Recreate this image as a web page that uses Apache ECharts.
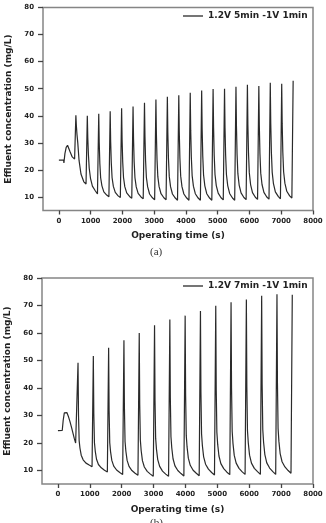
<!DOCTYPE html>
<html>
<head>
<meta charset="utf-8">
<script src="https://cdn.jsdelivr.net/npm/echarts@6/dist/echarts.min.js"></script>
<style>
    html, body { margin: 0; padding: 0; background: #ffffff; }
    #main { width: 326px; height: 523px; }
</style>
</head>
<body>
<div id="main"></div>
<script>
    // (a) 1.2V 5min / -1V 1min : time (s) and effluent concentration (mg/L)
    var nameA = '1.2V 5min -1V 1min';
    var timeA = [0, 150, 158, 168, 190, 230, 273, 310, 346, 420, 472, 495,
        535, 550, 570, 595, 635, 695, 785, 855,
        895, 910, 930, 955, 995, 1055, 1145, 1215,
        1255, 1270, 1290, 1315, 1355, 1415, 1505, 1575,
        1615, 1630, 1650, 1675, 1715, 1775, 1865, 1935,
        1975, 1990, 2010, 2035, 2075, 2135, 2225, 2295,
        2335, 2350, 2370, 2395, 2435, 2495, 2585, 2655,
        2695, 2710, 2730, 2755, 2795, 2855, 2945, 3015,
        3055, 3070, 3090, 3115, 3155, 3215, 3305, 3375,
        3415, 3430, 3450, 3475, 3515, 3575, 3665, 3735,
        3775, 3790, 3810, 3835, 3875, 3935, 4025, 4095,
        4135, 4150, 4170, 4195, 4235, 4295, 4385, 4455,
        4495, 4510, 4530, 4555, 4595, 4655, 4745, 4815,
        4855, 4870, 4890, 4915, 4955, 5015, 5105, 5175,
        5215, 5230, 5250, 5275, 5315, 5375, 5465, 5535,
        5575, 5590, 5610, 5635, 5675, 5735, 5825, 5895,
        5935, 5950, 5970, 5995, 6035, 6095, 6185, 6255,
        6295, 6310, 6330, 6355, 6395, 6455, 6545, 6615,
        6655, 6670, 6690, 6715, 6755, 6815, 6905, 6975,
        7015, 7030, 7050, 7075, 7115, 7175, 7265, 7335,
        7375];
    var concA = [23.6, 23.6, 22.6, 23.2, 26.0, 28.3, 29.1, 28.4, 26.9, 24.8, 24.2, 24.0,
        40.2, 36.4, 33.1, 30.0, 23.5, 18.5, 15.6, 14.8,
        40.0, 31.9, 25.6, 20.6, 16.9, 14.0, 12.3, 11.1,
        40.7, 30.0, 22.3, 17.1, 14.1, 11.9, 10.7, 10.1,
        41.7, 30.5, 22.6, 17.1, 13.9, 11.7, 10.4, 9.8,
        42.8, 31.1, 22.8, 17.2, 13.8, 11.5, 10.2, 9.5,
        43.4, 31.5, 22.9, 17.1, 13.7, 11.3, 10.0, 9.3,
        44.8, 32.3, 23.3, 17.2, 13.7, 11.1, 9.7, 9.0,
        46.0, 33.1, 23.8, 17.5, 13.8, 11.2, 9.7, 9.0,
        47.0, 33.6, 24.1, 17.6, 13.8, 11.1, 9.6, 8.8,
        47.6, 34.0, 24.3, 17.7, 13.8, 11.1, 9.6, 8.8,
        48.5, 34.6, 24.7, 17.9, 14.0, 11.2, 9.6, 8.8,
        49.3, 35.1, 25.0, 18.1, 14.1, 11.2, 9.6, 8.8,
        49.9, 35.6, 25.3, 18.3, 14.2, 11.4, 9.7, 8.9,
        50.0, 35.6, 25.3, 18.3, 14.2, 11.3, 9.6, 8.8,
        50.7, 36.1, 25.7, 18.6, 14.4, 11.5, 9.8, 9.0,
        51.5, 36.7, 26.1, 18.9, 14.6, 11.6, 9.9, 9.1,
        51.0, 36.4, 25.9, 18.8, 14.6, 11.7, 10.0, 9.2,
        52.2, 37.2, 26.5, 19.2, 14.9, 11.9, 10.2, 9.3,
        51.8, 37.0, 26.5, 19.3, 15.1, 12.1, 10.4, 9.6,
        52.9];

    // (b) 1.2V 7min / -1V 1min
    var nameB = '1.2V 7min -1V 1min';
    var timeB = [0, 135, 165, 200, 240, 280, 325, 380, 430, 510, 555, 590,
        630, 645, 665, 690, 730, 790, 880, 980, 1070,
        1110, 1125, 1145, 1170, 1210, 1270, 1360, 1460, 1550,
        1590, 1605, 1625, 1650, 1690, 1750, 1840, 1940, 2030,
        2070, 2085, 2105, 2130, 2170, 2230, 2320, 2420, 2510,
        2550, 2565, 2585, 2610, 2650, 2710, 2800, 2900, 2990,
        3030, 3045, 3065, 3090, 3130, 3190, 3280, 3380, 3470,
        3510, 3525, 3545, 3570, 3610, 3670, 3760, 3860, 3950,
        3990, 4005, 4025, 4050, 4090, 4150, 4240, 4340, 4430,
        4470, 4485, 4505, 4530, 4570, 4630, 4720, 4820, 4910,
        4950, 4965, 4985, 5010, 5050, 5110, 5200, 5300, 5390,
        5430, 5445, 5465, 5490, 5530, 5590, 5680, 5780, 5870,
        5910, 5925, 5945, 5970, 6010, 6070, 6160, 6260, 6350,
        6390, 6405, 6425, 6450, 6490, 6550, 6640, 6740, 6830,
        6870, 6885, 6905, 6930, 6970, 7030, 7120, 7220, 7310,
        7350];
    var concB = [24.4, 24.5, 28.2, 30.9, 31.5, 31.0, 29.7, 27.6, 25.4, 21.7, 19.9, 19.6,
        49.1, 30.2, 20.8, 18.1, 15.5, 13.8, 12.6, 11.9, 11.3,
        51.6, 30.5, 20.0, 17.0, 14.0, 12.1, 10.9, 10.0, 9.4,
        54.6, 31.6, 20.0, 16.8, 13.6, 11.5, 10.1, 9.2, 8.5,
        57.3, 32.8, 20.5, 17.0, 13.6, 11.4, 9.9, 8.9, 8.2,
        60.0, 33.9, 20.9, 17.2, 13.5, 11.2, 9.6, 8.6, 7.8,
        62.8, 35.3, 21.6, 17.7, 13.9, 11.4, 9.7, 8.6, 7.8,
        64.9, 36.4, 22.2, 18.2, 14.2, 11.6, 9.9, 8.8, 7.9,
        66.3, 37.2, 22.6, 18.5, 14.4, 11.8, 10.0, 8.9, 8.0,
        68.0, 38.2, 23.2, 19.0, 14.9, 12.2, 10.4, 9.2, 8.3,
        69.9, 39.2, 23.8, 19.5, 15.2, 12.4, 10.6, 9.3, 8.4,
        71.2, 39.9, 24.2, 19.8, 15.4, 12.6, 10.7, 9.4, 8.5,
        72.2, 40.4, 24.4, 20.0, 15.5, 12.6, 10.7, 9.5, 8.5,
        73.5, 41.0, 24.8, 20.2, 15.7, 12.7, 10.8, 9.5, 8.5,
        74.1, 41.5, 25.2, 20.6, 16.1, 13.1, 11.2, 9.9, 8.9,
        73.9];

    var xTicks = [0, 1000, 2000, 3000, 4000, 5000, 6000, 7000, 8000];
    var yTicks = [10, 20, 30, 40, 50, 60, 70, 80];

    var font = 'DejaVu Sans';
    var frameColor = '#858585';
    var tickColor = '#444444';
    var inkColor = '#2a2a2a';

    function pairs(t, v) {
        var out = [];
        for (var i = 0; i < t.length; i++) {
            out.push([t[i], v[i]]);
        }
        return out;
    }

    function plain(v) {
        return String(v);
    }

    function makeX(i) {
        return {
            type: 'value', gridIndex: i, min: -500, max: 8000,
            name: 'Operating time (s)', nameLocation: 'middle', nameGap: 21,
            nameTextStyle: { fontFamily: font, fontWeight: 'bold', fontSize: 9, color: '#222' },
            axisLine: { show: false, onZero: false },
            splitLine: { show: false },
            axisTick: { show: true, length: 4, customValues: xTicks, lineStyle: { color: tickColor, width: 1.3 } },
            axisLabel: { customValues: xTicks, formatter: plain, margin: 7, fontFamily: font, fontWeight: 'bold', fontSize: 7, color: '#222' }
        };
    }

    function makeY(i) {
        return {
            type: 'value', gridIndex: i, min: 5, max: 80,
            name: 'Effluent concentration (mg/L)', nameLocation: 'middle', nameGap: 30, nameRotate: 90,
            nameTextStyle: { fontFamily: font, fontWeight: 'bold', fontSize: 9, color: '#222' },
            axisLine: { show: false, onZero: false },
            splitLine: { show: false },
            axisTick: { show: true, length: 5, customValues: yTicks, lineStyle: { color: tickColor, width: 1.3 } },
            axisLabel: { customValues: yTicks, formatter: plain, margin: 9, fontFamily: font, fontWeight: 'bold', fontSize: 7, color: '#222' }
        };
    }

    function makeLegend(name, top) {
        return {
            data: [name], left: 183, top: top, padding: 0,
            icon: 'rect', itemWidth: 20, itemHeight: 1.3, itemGap: 0,
            textStyle: { fontFamily: font, fontWeight: 'bold', fontSize: 9, color: '#222', padding: [0, 0, 0, 0] }
        };
    }

    function makeSeries(name, i, t, v) {
        return {
            name: name, type: 'line', xAxisIndex: i, yAxisIndex: i,
            data: pairs(t, v), showSymbol: false, symbol: 'none',
            color: inkColor,
            lineStyle: { color: inkColor, width: 1.2 },
            animation: false
        };
    }

    var chart = echarts.init(document.getElementById('main'), null, { renderer: 'canvas' });
    var option = {
        backgroundColor: '#ffffff',
        animation: false,
        grid: [
            { left: 43, top: 7.5, width: 270, height: 203, containLabel: false, outerBoundsMode: 'none',
              show: true, borderColor: frameColor, borderWidth: 1.5 },
            { left: 42, top: 278, width: 271, height: 206, containLabel: false, outerBoundsMode: 'none',
              show: true, borderColor: frameColor, borderWidth: 1.5 }
        ],
        xAxis: [makeX(0), makeX(1)],
        yAxis: [makeY(0), makeY(1)],
        legend: [makeLegend(nameA, 11.5), makeLegend(nameB, 281.5)],
        series: [
            makeSeries(nameA, 0, timeA, concA),
            makeSeries(nameB, 1, timeB, concB)
        ],
        graphic: [
            { type: 'text', left: 150, top: 247, style: { text: '(a)', fontFamily: 'Liberation Serif', fontSize: 11, fill: '#333' } },
            { type: 'text', left: 150, top: 518, style: { text: '(b)', fontFamily: 'Liberation Serif', fontSize: 11, fill: '#333' } }
        ]
    };
    chart.setOption(option);
</script>
</body>
</html>
